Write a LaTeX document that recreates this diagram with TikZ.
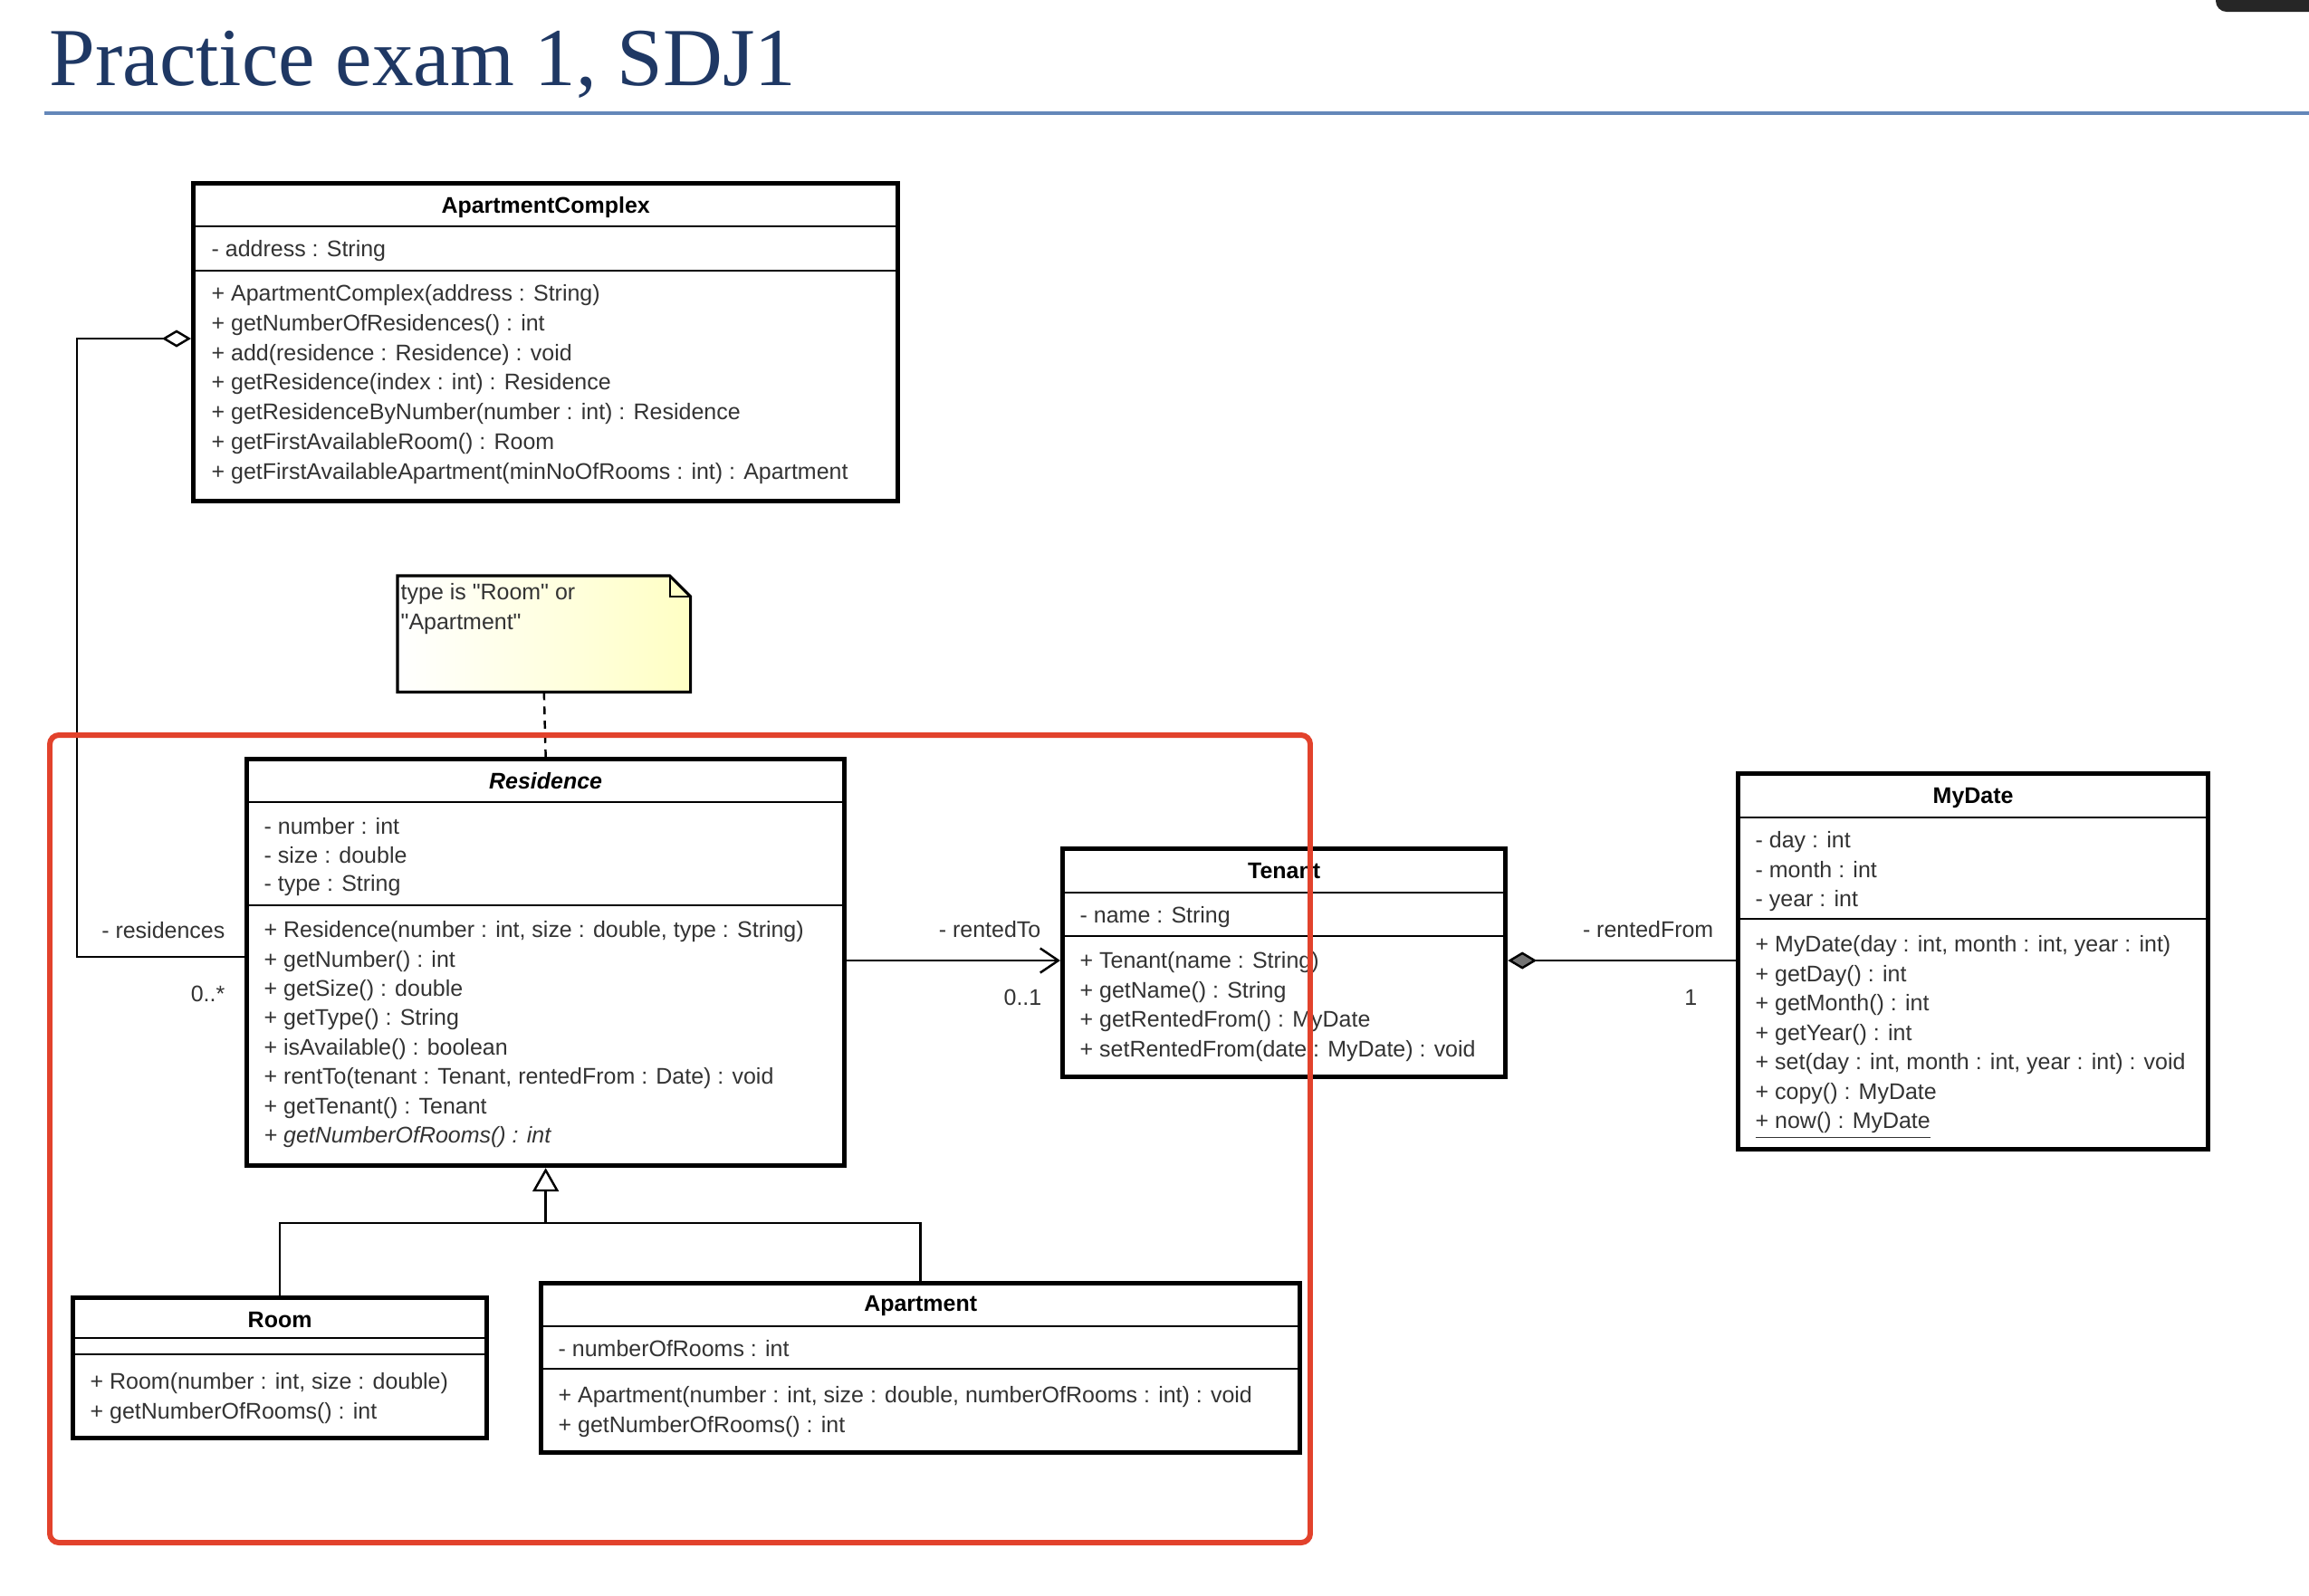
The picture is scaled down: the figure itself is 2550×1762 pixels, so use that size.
\documentclass[tikz,border=0pt]{standalone}
\usepackage{fontspec}
\newfontfamily\umlfont{Liberation Sans}
\newfontfamily\titlefont{Liberation Serif}
\usetikzlibrary{arrows.meta,positioning}
\definecolor{titleblue}{RGB}{31,56,100}
\definecolor{rulecol}{RGB}{100,135,185}
\definecolor{framered}{RGB}{226,66,44}
\definecolor{notefill}{RGB}{255,255,196}
\begin{document}
\begin{tikzpicture}[x=0.01cm,y=-0.01cm,
    every node/.style={font=\umlfont\fontsize{7.1}{8.5}\selectfont,text=black!80,inner sep=0pt},
    classbox/.style={draw=black,line width=1.4pt,anchor=north west,fill=white},
    sep/.style={line width=0.8pt},
    member/.style={anchor=mid west},
    cname/.style={anchor=mid,text=black,font=\umlfont\fontsize{7.1}{8.5}\selectfont\bfseries},
    link/.style={line width=0.7pt},
    barb/.style={-{Straight Barb[length=2mm,width=2.7mm]}}]
    \useasboundingbox (0,0) rectangle (2550,1762);
    \fill[white] (0,0) rectangle (2550,1762);
    \fill[black!85,rounded corners=0.12cm] (2447,-30) rectangle (2580,13);
    % heading
    \node[anchor=base west,text=titleblue,font=\titlefont\fontsize{25.9}{30}\selectfont] (title) at (54,94) {Practice exam 1, SDJ1};
    \draw[rulecol,line width=0.9pt] (49,125) -- (2550,125);

    % ApartmentComplex
    \node[classbox,minimum width=7.78cm,minimum height=3.51cm] (cplx) at (211,200) {};
    \foreach \yy in {250,299} {\draw[sep] (cplx.west |- 0,\yy) -- (cplx.east |- 0,\yy);}
    \node[cname] (cplx-name) at (cplx.north |- 0,228) {ApartmentComplex};
    \node[member] (cplx-a0) at (233,276) {- address : String};
    \foreach \m [count=\i from 0] in {{+ ApartmentComplex(address : String)},{+ getNumberOfResidences() : int},
        {+ add(residence : Residence) : void},{+ getResidence(index : int) : Residence},
        {+ getResidenceByNumber(number : int) : Residence},{+ getFirstAvailableRoom() : Room},
        {+ getFirstAvailableApartment(minNoOfRooms : int) : Apartment}}
        \node[member] (cplx-m\i) at (233,325+32.8*\i) {\m};

    % note
    \node[minimum width=3.22cm,minimum height=1.27cm,anchor=north west] (note) at (439,636) {};
    \fill[left color=white,right color=notefill] (note.south west) -- (note.north west) -- ([xshift=-0.23cm]note.north east)
        -- ([yshift=-0.23cm]note.north east) -- (note.south east) -- cycle;
    \draw[line width=0.9pt] (note.south west) -- (note.north west) -- ([xshift=-0.23cm]note.north east)
        -- ([yshift=-0.23cm]note.north east) -- (note.south east) -- cycle;
    \draw[line width=0.6pt] ([xshift=-0.23cm]note.north east) |- ([yshift=-0.23cm]note.north east);
    \node[member] (note-l1) at (442,655) {type is "Room" or};
    \node[member] (note-l2) at (442,688) {"Apartment"};

    % Residence
    \node[classbox,minimum width=6.6cm,minimum height=4.49cm] (res) at (270,836) {};
    \foreach \yy in {886,1000} {\draw[sep] (res.west |- 0,\yy) -- (res.east |- 0,\yy);}
    \node[cname,font=\umlfont\fontsize{7.1}{8.5}\selectfont\bfseries\itshape] (res-name) at (res.north |- 0,864) {Residence};
    \foreach \m [count=\i from 0] in {{- number : int},{- size : double},{- type : String}}
        \node[member] (res-a\i) at (291,914+31.6*\i) {\m};
    \foreach \m [count=\i from 0] in {{+ Residence(number : int, size : double, type : String)},{+ getNumber() : int},
        {+ getSize() : double},{+ getType() : String},{+ isAvailable() : boolean},
        {+ rentTo(tenant : Tenant, rentedFrom : Date) : void},{+ getTenant() : Tenant},
        {\itshape + getNumberOfRooms() : int}}
        \node[member] (res-m\i) at (291,1028+32.4*\i) {\m};

    % Tenant
    \node[classbox,minimum width=4.89cm,minimum height=2.52cm] (ten) at (1171,935) {};
    \foreach \yy in {986,1034} {\draw[sep] (ten.west |- 0,\yy) -- (ten.east |- 0,\yy);}
    \node[cname] (ten-name) at (ten.north |- 0,963) {Tenant};
    \node[member] (ten-a0) at (1192,1012) {- name : String};
    \foreach \m [count=\i from 0] in {{+ Tenant(name : String)},{+ getName() : String},
        {+ getRentedFrom() : MyDate},{+ setRentedFrom(date : MyDate) : void}}
        \node[member] (ten-m\i) at (1192,1062+32.6*\i) {\m};

    % MyDate
    \node[classbox,minimum width=5.19cm,minimum height=4.15cm] (date) at (1917,852) {};
    \foreach \yy in {903,1015} {\draw[sep] (date.west |- 0,\yy) -- (date.east |- 0,\yy);}
    \node[cname] (date-name) at (date.north |- 0,880) {MyDate};
    \foreach \m [count=\i from 0] in {{- day : int},{- month : int},{- year : int}}
        \node[member] (date-a\i) at (1938,929+32.5*\i) {\m};
    \foreach \m [count=\i from 0] in {{+ MyDate(day : int, month : int, year : int)},{+ getDay() : int},
        {+ getMonth() : int},{+ getYear() : int},{+ set(day : int, month : int, year : int) : void},
        {+ copy() : MyDate},{\underline{+ now() : MyDate}}}
        \node[member] (date-m\i) at (1938,1044+32.5*\i) {\m};

    % Room
    \node[classbox,minimum width=4.57cm,minimum height=1.55cm] (room) at (78,1431) {};
    \foreach \yy in {1478,1496} {\draw[sep] (room.west |- 0,\yy) -- (room.east |- 0,\yy);}
    \node[cname] (room-name) at (room.north |- 0,1459) {Room};
    \foreach \m [count=\i from 0] in {{+ Room(number : int, size : double)},{+ getNumberOfRooms() : int}}
        \node[member] (room-m\i) at (99,1527+33*\i) {\m};

    % Apartment
    \node[classbox,minimum width=8.38cm,minimum height=1.87cm] (apt) at (595,1415) {};
    \foreach \yy in {1465,1512} {\draw[sep] (apt.west |- 0,\yy) -- (apt.east |- 0,\yy);}
    \node[cname] (apt-name) at (apt.north |- 0,1441) {Apartment};
    \node[member] (apt-a0) at (616,1491) {- numberOfRooms : int};
    \foreach \m [count=\i from 0] in {{+ Apartment(number : int, size : double, numberOfRooms : int) : void},
        {+ getNumberOfRooms() : int}}
        \node[member] (apt-m\i) at (616,1542+32.5*\i) {\m};

    % connectors
    \draw[link,barb,{Diamond[open,length=3.2mm,width=1.9mm]}-] (cplx.west |- 0,374) -| (85,700) |- (res.west |- 0,1057);
    \node[anchor=mid east] (lbl-res) at (249,1029) {- residences};
    \node[anchor=mid east] (mult-res) at (249,1099) {0..*};
    \draw[link,barb] (res.east |- 0,1061) -- (ten.west |- 0,1061);
    \node[anchor=mid east] (lbl-ten) at (1150,1028) {- rentedTo};
    \node[anchor=mid east] (mult-ten) at (1151,1103) {0..1};
    \draw[link,barb,{Diamond[length=3.2mm,width=1.9mm,fill=black!55]}-] (ten.east |- 0,1061) -- (date.west |- 0,1061);
    \node[anchor=mid east] (lbl-date) at (1893,1028) {- rentedFrom};
    \node[anchor=mid east] (mult-date) at (1875,1103) {1};
    \draw[link,dash pattern=on 2.5pt off 2pt] (note.south) -- (res.north);
    \coordinate (gen) at (res.south |- 0,1351);
    \draw[link] (room.north) |- (apt.north |- gen) -- (apt.north);
    \draw[link,-{Triangle[open,length=2.6mm,width=2.9mm]}] (gen) -- (res.south);

    % highlight
    \draw[framered,line width=1.7pt,rounded corners=0.1cm] (55,812) rectangle (1447,1704);
\end{tikzpicture}
\end{document}
